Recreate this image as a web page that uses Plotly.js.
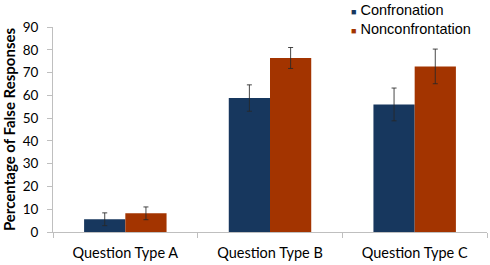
<!DOCTYPE html>
<html>
<head>
<meta charset="utf-8">
<script src="https://cdn.plot.ly/plotly-3.0.1.min.js"></script>
<style>html,body{margin:0;padding:0;background:#fff;}#chart{width:490px;height:265px;}</style>
</head>
<body>
<div id="chart"></div>
<script>
const categories = ["Question Type A", "Question Type B", "Question Type C"];
const seriesNames = ["Confronation", "Nonconfrontation"];
const confrontation = [5.6, 58.8, 56.0];
const confrontationErr = [2.8, 5.8, 7.2];
const nonconfrontation = [8.2, 76.4, 72.7];
const nonconfrontationErr = [2.8, 4.6, 7.6];
const colors = ["#17375E", "#A33400"];

const errStyle = {color: "rgba(40,40,40,0.85)", thickness: 1, width: 2.5};

const traces = [
  {type: "bar", name: seriesNames[0], x: categories, y: confrontation,
   marker: {color: colors[0]},
   error_y: Object.assign({type: "data", array: confrontationErr, visible: true}, errStyle)},
  {type: "bar", name: seriesNames[1], x: categories, y: nonconfrontation,
   marker: {color: colors[1]},
   error_y: Object.assign({type: "data", array: nonconfrontationErr, visible: true}, errStyle)}
];

const legendY = [1.085, 0.988];
const annotations = seriesNames.map((n, i) => ({
  xref: "paper", yref: "paper", x: 0.683, y: legendY[i],
  xanchor: "left", yanchor: "middle", showarrow: false,
  text: '<span style="font-size:9px;color:' + colors[i] + '">■</span> ' + n,
  font: {family: "Liberation Sans, Arial, sans-serif", size: 14.5, color: "#000"}
}));

const layout = {
  width: 490, height: 265,
  margin: {l: 53, r: 3, t: 27, b: 33, pad: 0},
  paper_bgcolor: "#fff", plot_bgcolor: "#fff",
  showlegend: false,
  barmode: "group", bargap: 0.43, bargroupgap: 0,
  font: {family: "Lato, sans-serif", size: 13, color: "#000"},
  xaxis: {
    type: "category", range: [-0.5, 2.5],
    showline: true, linecolor: "#BFBFBF", linewidth: 1,
    ticks: "outside", tickson: "boundaries", ticklen: 5, tickcolor: "#BFBFBF",
    showgrid: false, zeroline: false,
    ticklabelstandoff: 8,
    tickfont: {family: "Lato, sans-serif", size: 14.5, color: "#000"}
  },
  yaxis: {
    range: [0, 90], dtick: 10,
    showline: true, linecolor: "#BFBFBF", linewidth: 1,
    ticks: "outside", ticklen: 5, tickcolor: "#BFBFBF",
    showgrid: false, zeroline: false,
    ticklabelstandoff: 6,
    tickfont: {family: "Lato, sans-serif", size: 13.5, color: "#000"},
    title: {text: "Percentage of False Responses", standoff: 3,
            font: {family: "Lato, sans-serif", size: 15, color: "#000", weight: "bold"}}
  },
  annotations: annotations
};

Plotly.newPlot("chart", traces, layout, {staticPlot: true, displayModeBar: false});
</script>
</body>
</html>
